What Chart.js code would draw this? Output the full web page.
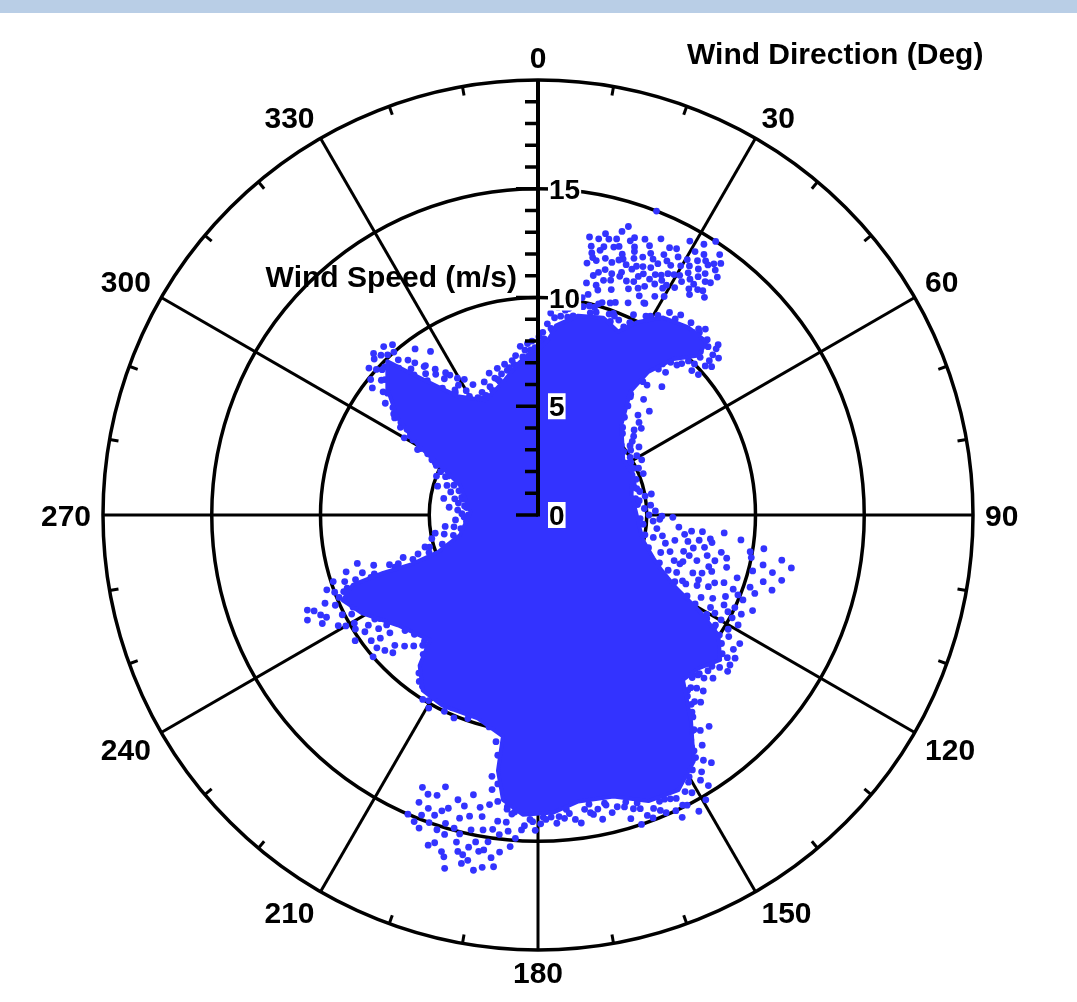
<!DOCTYPE html>
<html>
<head>
<meta charset="utf-8">
<title>Wind Speed vs Direction</title>
<script src="https://cdn.jsdelivr.net/npm/chart.js@4.4.1/dist/chart.umd.min.js"></script>
<style>
  html, body { margin: 0; padding: 0; background: #ffffff; overflow: hidden; }
  #wrap { position: absolute; left: 0; top: 0; width: 1077px; height: 1002px; }
  #band { position: absolute; left: 0; top: 0; width: 1077px; height: 13px; background: #b9cee6; }
</style>
</head>
<body>
<div id="wrap"><canvas id="windRose" width="1077" height="1002"></canvas></div>
<div id="band"></div>
<script>
// ---- Axis definitions -------------------------------------------------------
const directionTicks = [0, 30, 60, 90, 120, 150, 180, 210, 240, 270, 300, 330];
const directionMinorTicks = [10, 20, 40, 50, 70, 80, 100, 110, 130, 140, 160, 170,
                             190, 200, 220, 230, 250, 260, 280, 290, 310, 320, 340, 350];
const speedTicks = [0, 5, 10, 15];
const speedRings = [5, 10, 15, 20];
const speedMax = 20;
const directionTitle = 'Wind Direction (Deg)';
const speedTitle = 'Wind Speed (m/s)';

// ---- Observations -----------------------------------------------------------
// Outline of the densely populated core of the record (direction deg, speed m/s)
const coreDir = [0, 3, 6, 11.4, 18.3, 23.6, 27.4, 32.4, 38.7, 44.2, 45.2,
  41, 37.6, 36.8, 42.7, 57, 66, 77.9, 88, 98.4, 104, 110.5, 114, 117.9, 120.9,
  123.7, 128.5, 133.7, 138.7, 143.4, 147.7, 153, 158.9, 165, 172,
  177.1, 182.9, 187, 188.9, 189, 196.5, 206.6, 213.3, 218.2, 220.8,
  231.8, 240.7, 246.4, 249.3, 249.5, 248.7, 249.7, 255.6, 272.5, 291,
  295.8, 300.3, 304.7, 309.8, 315.6, 317.7, 322, 325.9, 335.3, 346.3,
  352.4, 357.5];
const coreSpeed = [7.6, 8.0, 8.8, 9.35, 9.55, 9.2, 10.0, 10.75, 11.05, 11.1, 10.4,
  9.5, 8.3, 7.1, 5.65, 4.67, 4.75, 4.4, 4.5, 4.75, 5.0, 5.66, 6.2, 7.2, 8.7,
  9.97, 10.7, 10.2, 10.1, 11.8, 13.4, 14.2, 14.1, 13.4, 13.3,
  13.7, 13.8, 13.2, 11.9, 10.3, 9.75, 9.8, 9.65, 8.8, 7.6,
  8.2, 9.25, 9.8, 9.1, 7.6, 6.3, 4.9, 3.7, 3.1, 3.85,
  4.76, 6.4, 7.85, 9.0, 9.9, 8.9, 7.5, 6.6, 5.8, 6.4,
  7.0, 7.5];

// Individual samples, [direction deg, speed m/s]
const coreEdgeObs = [
  [1.5, 7.9], [4.5, 8.5], [8.5, 9.2], [14.5, 9.6], [16.0, 9.7], [20.5, 9.5], [25.5, 9.8], [29.5, 10.5], [35.0, 11.0], [41.5, 11.2],
  [39.5, 9.0], [38.2, 7.8], [37.5, 7.0], [39.5, 6.5], [41.5, 6.0], [44.0, 5.6], [46.0, 5.4], [50.0, 5.0], [53.5, 4.9],
  [60.0, 4.8], [64.0, 4.9], [71.0, 4.55], [74.0, 4.6], [80.5, 4.55], [84.0, 4.6], [92.0, 4.7], [95.0, 4.85], [100.5, 5.0], [106.5, 5.3],
  [111.5, 6.0], [113.0, 6.5], [116.0, 7.0], [118.5, 7.8], [119.5, 8.3], [121.5, 9.1], [122.5, 9.6], [125.0, 10.3], [127.0, 10.9],
  [131.0, 10.6], [134.5, 10.4], [136.5, 10.3], [139.5, 10.6], [141.0, 11.2], [142.5, 11.7], [144.5, 12.2], [146.5, 13.0],
  [150.0, 13.9], [155.0, 14.4], [157.0, 14.3], [161.0, 14.0], [163.0, 13.8], [167.0, 13.6], [170.0, 13.5], [174.5, 13.6], [176.0, 13.9], [179.0, 13.9],
  [181.0, 14.1], [184.5, 13.7], [186.0, 13.6],
  [188.5, 12.5], [189.5, 11.2], [190.5, 10.6], [190.0, 12.2], [189.5, 12.8],
  [193.0, 10.0], [199.0, 9.9], [202.5, 10.1], [204.0, 9.7], [210.5, 9.9], [215.5, 9.4], [217.0, 9.1], [219.5, 8.3], [220.0, 7.9], [222.0, 7.8],
  [226.0, 7.9], [229.0, 8.1], [234.0, 8.6], [237.5, 8.9], [243.5, 9.5], [247.5, 9.9], [249.0, 9.4], [250.5, 8.9], [250.2, 8.0], [250.0, 7.0],
  [250.5, 6.1], [251.0, 5.3], [253.0, 4.6], [256.5, 4.0], [260.0, 3.6], [265.0, 3.3], [270.0, 3.2], [276.0, 3.3], [282.0, 3.5], [287.0, 3.8],
  [293.5, 4.5], [297.0, 5.3], [299.5, 6.2], [302.0, 6.9], [304.0, 7.6], [306.5, 8.3], [309.0, 8.9], [311.5, 9.4], [314.0, 9.8], [316.5, 9.3],
  [318.5, 8.6], [320.5, 8.0], [323.0, 7.3], [326.0, 6.8], [330.0, 6.3], [333.0, 6.0], [337.0, 5.9], [340.0, 6.1], [344.0, 6.4], [348.0, 6.8],
  [351.0, 7.0], [354.5, 7.3], [357.5, 7.6]
];
const northObs = [
  [358.0, 8.0], [355.5, 7.6], [2.0, 8.1], [4.0, 8.6], [6.5, 9.2], [8.5, 9.6], [3.0, 7.8], [352.0, 7.4], [349.0, 6.9], [345.5, 6.7],
  [9.0, 10.2], [7.0, 9.9], [10.0, 9.3], [5.5, 9.6], [1.0, 7.9],
  [356.5, 7.9], [359.0, 7.7], [1.5, 8.4], [2.8, 8.8], [4.8, 9.1], [5.8, 8.7], [7.6, 9.5], [8.0, 10.0], [9.6, 9.8], [3.6, 9.3],
  [354.0, 7.8], [350.5, 7.2], [347.5, 7.1], [343.5, 6.5], [0.3, 8.2], [6.0, 10.1], [10.5, 9.9], [11.5, 10.2], [12.2, 9.8], [13.8, 9.9],
  [16.8, 10.2], [18.8, 10.3], [20.5, 9.9], [22.5, 9.7], [25.5, 10.2], [28.5, 10.4], [31.0, 10.7], [33.0, 11.1], [35.5, 11.3], [26.8, 10.9]
];
const northEastObs = [
  [10.5, 13.0], [11.2, 12.6], [12.0, 12.1], [13.5, 13.3], [14.0, 11.5], [14.9, 10.7], [15.8, 12.8], [16.5, 13.6], [17.4, 13.9], [18.4, 12.4],
  [19.0, 11.8], [19.8, 13.1], [20.5, 12.6], [21.3, 15.0], [21.8, 11.2], [22.5, 13.4], [23.6, 12.1], [24.2, 12.9], [25.0, 11.6], [25.8, 13.3],
  [26.5, 10.9], [27.2, 12.4], [28.0, 13.0], [28.8, 11.9], [29.5, 12.7], [30.3, 13.6], [31.0, 12.2], [31.8, 13.1], [32.5, 14.2], [33.1, 13.5],
  [33.7, 12.5], [34.2, 13.9], [35.0, 14.1], [35.6, 13.2], [36.3, 12.8], [37.0, 13.7], [33.0, 15.0], [29.0, 14.4], [12.8, 10.4], [16.0, 10.1],
  [18.0, 10.9], [13.0, 11.3], [17.0, 11.6], [20.0, 10.4], [22.8, 11.9], [26.0, 12.3], [30.0, 11.6], [24.0, 13.9], [27.5, 13.8], [34.5, 12.3],
  [31.5, 14.6], [11.8, 10.9], [15.2, 9.9], [19.5, 9.8], [23.0, 10.6],
  [11.0, 11.8], [11.6, 12.3], [12.4, 13.0], [12.9, 12.0], [13.8, 12.7], [14.4, 13.1], [14.7, 12.2], [15.3, 11.7], [15.9, 13.2], [16.3, 12.1],
  [16.8, 12.9], [17.2, 11.3], [17.9, 12.6], [18.6, 13.3], [18.9, 11.6], [19.4, 12.2], [20.1, 12.9], [20.7, 11.5], [21.2, 13.6], [21.6, 12.3],
  [22.1, 12.8], [22.9, 12.4], [23.3, 13.1], [23.8, 11.4], [24.5, 12.5], [25.3, 12.0], [25.5, 12.8], [26.2, 13.7], [26.8, 11.9], [27.8, 12.2],
  [28.3, 12.6], [28.5, 13.5], [29.2, 12.1], [29.8, 13.2], [30.6, 12.8], [31.3, 13.4], [31.6, 12.6], [32.1, 13.8], [32.8, 12.9], [33.4, 14.0],
  [33.9, 13.2], [34.0, 12.8], [34.7, 13.5], [35.3, 12.7], [35.9, 13.9], [36.6, 13.3], [37.4, 12.6], [36.0, 14.3], [34.9, 14.6], [30.8, 14.1],
  [13.2, 12.5], [14.2, 10.9], [15.6, 11.2], [17.6, 12.3], [19.2, 13.5], [20.9, 12.1], [22.3, 11.6], [24.8, 11.1], [26.9, 13.1], [28.1, 11.4],
  [38.5, 11.3], [40.2, 11.0], [42.0, 11.5], [44.0, 11.2], [46.6, 11.4], [47.5, 10.9], [48.3, 10.3], [46.0, 10.0], [43.5, 9.6], [41.0, 9.3],
  [39.5, 8.7], [44.8, 10.6], [49.0, 11.0], [37.5, 10.5], [42.5, 10.2],
  [39.0, 10.9], [40.8, 11.3], [41.5, 10.7], [43.0, 11.0], [45.3, 11.0], [45.8, 10.4], [47.0, 11.2], [48.0, 10.6], [49.5, 10.5], [44.3, 9.9],
  [42.8, 9.4], [40.5, 9.8], [39.8, 10.3], [38.2, 9.9], [41.8, 8.8], [46.8, 9.7], [48.8, 9.8], [43.8, 10.5],
  [42.4, 7.2], [45.0, 6.5], [40.0, 7.8], [47.0, 7.0], [38.0, 6.9], [44.0, 8.2], [50.0, 6.2], [52.0, 5.5], [48.5, 5.9], [55.0, 5.2],
  [21.0, 9.8], [24.5, 9.5], [27.0, 9.6], [30.0, 10.2]
];
const eastObs = [
  [94.9, 6.5], [96.0, 7.1], [98.9, 7.5], [97.5, 6.8], [100.5, 6.4], [102.0, 7.3], [104.0, 6.9], [99.0, 8.1], [101.5, 8.6], [103.5, 8.0],
  [106.0, 7.6], [108.0, 8.4], [105.5, 9.0], [107.5, 9.6], [110.0, 9.1], [100.5, 11.4], [105.0, 11.6], [102.5, 10.6], [103.8, 11.1], [106.5, 10.8],
  [108.8, 10.3], [112.5, 10.2], [114.0, 10.8], [116.0, 10.4], [118.8, 10.5], [117.0, 9.8], [113.5, 9.4], [111.0, 8.7], [115.5, 8.9], [119.0, 9.3],
  [121.0, 10.2], [110.5, 7.6], [112.0, 7.96], [109.0, 6.9], [114.5, 7.3], [97.0, 9.4], [99.8, 9.9], [95.5, 8.6], [92.0, 5.6], [91.0, 6.2],
  [124.5, 10.9], [126.0, 11.2], [122.5, 11.0],
  [95.8, 7.6], [97.9, 8.0], [100.0, 7.0], [101.0, 7.8], [102.9, 8.9], [104.5, 8.4], [105.0, 7.2], [106.8, 8.2], [107.8, 7.0], [109.5, 8.0],
  [110.8, 9.6], [112.8, 8.5], [113.9, 8.0], [115.8, 9.5], [116.8, 8.4], [118.2, 9.0], [119.8, 9.7], [120.5, 9.0], [121.8, 9.6], [122.5, 10.4],
  [123.5, 10.0], [117.9, 10.1], [115.2, 10.0], [111.8, 9.9], [109.9, 10.6], [104.6, 10.2], [101.3, 10.0], [98.5, 10.5], [101.8, 11.9], [107.8, 11.3],
  [60.5, 4.9], [65.0, 5.1], [70.0, 4.8], [75.0, 4.7], [80.0, 5.0], [85.0, 5.2], [88.0, 5.4], [56.0, 5.6], [62.0, 5.4],
  [47.5, 6.3], [50.5, 5.7], [53.0, 5.3], [58.0, 5.0], [63.5, 4.8], [67.0, 4.7], [72.0, 4.6], [77.0, 4.8], [82.0, 4.7], [86.5, 4.9],
  [90.0, 5.1], [93.0, 5.3], [96.5, 5.5], [99.5, 5.8], [102.5, 6.0], [105.5, 6.3], [108.5, 6.6], [112.5, 6.9], [115.0, 7.5], [59.0, 5.3],
  [68.5, 5.2], [79.5, 5.3], [90.5, 5.7], [101.0, 5.4], [107.0, 5.9]
];
const southEastObs = [
  [145.0, 13.9], [148.5, 14.3], [151.0, 14.6], [153.5, 14.9], [156.7, 14.9], [158.5, 14.5], [160.0, 14.7], [162.0, 14.2], [150.0, 13.6], [146.5, 12.8],
  [144.0, 12.2], [142.0, 11.5], [149.5, 15.2], [154.5, 15.4], [140.5, 10.8], [147.0, 13.3], [155.5, 13.9], [163.5, 14.0], [166.0, 14.1], [168.5, 13.8],
  [141.0, 12.5], [139.0, 11.4], [130.0, 10.9], [132.5, 10.6], [135.0, 10.4], [137.5, 10.8], [128.0, 11.2],
  [170.0, 13.9], [174.0, 13.8], [176.5, 14.2], [178.5, 14.0], [172.0, 14.3],
  [127.0, 10.6], [129.5, 11.3], [131.0, 10.4], [133.0, 11.0], [134.5, 10.7], [136.0, 10.2], [136.8, 11.1], [138.5, 10.6], [140.0, 11.2], [141.8, 11.0],
  [143.0, 12.4], [144.5, 13.0], [145.8, 12.5], [146.0, 13.6], [147.5, 14.0], [148.8, 13.7], [150.6, 14.1], [152.0, 14.4], [152.8, 15.0], [154.0, 14.5],
  [155.0, 15.0], [156.0, 14.3], [157.5, 14.7], [159.2, 14.9], [160.8, 14.3], [161.5, 15.0], [163.0, 14.6], [164.8, 13.9], [166.8, 13.7], [168.0, 14.3],
  [169.5, 14.0], [171.0, 13.7], [173.0, 14.1], [175.0, 14.0], [177.5, 13.9], [179.5, 14.2], [181.5, 14.0], [183.0, 14.5], [151.5, 15.5], [147.8, 14.7]
];
const southObs = [
  [196.7, 14.8], [192.5, 16.0], [188.7, 15.2], [185.4, 14.6], [195.7, 13.6], [198.0, 14.3], [199.5, 15.0], [194.0, 15.5], [190.5, 14.1], [193.0, 13.2],
  [197.5, 15.8], [191.5, 16.2], [189.5, 13.5], [186.5, 15.6], [184.0, 14.9], [200.5, 14.4], [201.5, 13.8], [194.5, 14.4], [192.0, 14.8], [196.0, 16.1],
  [187.5, 14.2], [198.8, 13.2], [190.0, 15.7], [182.5, 14.3], [202.0, 15.2], [193.8, 15.1], [189.0, 16.4], [180.5, 14.5], [192.4, 16.4],
  [184.8, 15.3], [185.9, 14.2], [186.9, 14.8], [187.8, 15.9], [188.2, 14.6], [189.2, 15.6], [189.9, 14.7], [190.8, 15.3], [191.2, 13.7], [191.8, 15.6],
  [192.8, 14.2], [193.4, 15.9], [194.2, 13.8], [195.0, 14.9], [195.4, 16.3], [196.3, 15.3], [197.0, 14.1], [197.8, 15.2], [198.4, 16.0], [199.0, 14.6],
  [199.8, 13.7], [200.8, 15.4], [201.2, 14.8], [202.5, 14.3], [203.0, 13.6], [203.5, 15.0], [187.2, 16.3], [190.3, 16.6], [194.8, 16.8], [185.0, 13.8],
  [186.0, 13.5], [188.0, 13.3],
  [208.0, 9.6], [205.5, 10.0], [214.0, 9.5], [212.0, 10.0], [209.5, 10.2]
];
const southWestObs = [
  [247.6, 11.47], [245.5, 11.65], [245.3, 11.0], [243.3, 11.1], [247.5, 10.6], [250.5, 10.3], [252.0, 9.9], [248.5, 9.6], [243.0, 10.1], [241.0, 10.5],
  [239.5, 9.8], [237.0, 9.3], [229.3, 10.0], [233.0, 9.6], [235.5, 10.2], [227.7, 8.9], [226.5, 9.2], [231.5, 8.7], [253.5, 9.2], [255.0, 8.6],
  [245.5, 8.9], [238.5, 8.4],
  [246.8, 11.2], [244.2, 10.8], [246.0, 10.2], [249.2, 10.0], [251.0, 9.4], [244.8, 9.5], [242.0, 9.7], [240.0, 10.2], [238.0, 9.9], [236.0, 9.6],
  [234.5, 9.0], [232.0, 9.2], [230.5, 9.6], [228.5, 9.4], [225.5, 8.6], [223.5, 8.3], [221.5, 8.0], [236.8, 8.7], [241.8, 9.0], [248.0, 8.7],
  [251.8, 8.5], [253.0, 7.9], [251.5, 7.2], [252.5, 6.5], [252.0, 5.8], [253.5, 5.2], [250.8, 6.8], [249.5, 8.2]
];
const westObs = [
  [294.0, 4.9], [284.8, 4.15], [278.5, 3.7], [266.6, 3.8], [260.0, 4.8], [254.2, 5.4], [288.0, 4.4], [281.0, 3.9], [271.0, 3.5], [263.0, 4.3],
  [297.5, 5.5], [291.0, 5.0], [275.0, 4.1], [257.5, 5.0],
  [258.5, 4.4], [262.0, 3.9], [268.5, 3.4], [273.5, 3.7], [277.0, 3.4], [280.0, 4.4], [283.0, 3.6], [286.0, 4.8], [289.5, 4.1], [292.5, 4.6],
  [296.0, 5.2], [299.0, 5.8], [298.5, 6.3], [301.0, 6.7]
];
const northWestObs = [
  [313.6, 10.4], [316.8, 10.1], [326.7, 9.0], [310.7, 9.5], [306.2, 8.7], [304.1, 7.96], [300.0, 7.1], [327.0, 7.8], [326.4, 6.9], [332.9, 6.06],
  [318.5, 10.0], [312.0, 10.0], [320.0, 9.3], [322.5, 8.6], [308.5, 9.1], [302.5, 7.5], [329.5, 7.3], [324.0, 8.0], [335.5, 6.2], [338.0, 6.6],
  [341.0, 6.9], [315.0, 9.7], [319.5, 10.3], [323.5, 9.5],
  [311.0, 10.3], [313.0, 9.8], [314.5, 10.6], [316.0, 9.4], [317.5, 10.5], [318.0, 9.6], [319.0, 8.9], [321.0, 9.0], [321.5, 8.3], [323.0, 8.6],
  [324.8, 8.2], [325.5, 7.6], [327.8, 7.6], [328.5, 7.0], [330.0, 6.6], [331.5, 7.1], [333.5, 6.7], [334.8, 5.9], [336.5, 6.0], [339.5, 6.3],
  [342.5, 6.6], [344.5, 7.0], [309.5, 8.4], [307.5, 9.6], [305.0, 8.1], [303.2, 7.2], [301.8, 6.9], [309.0, 9.9], [312.8, 9.3], [315.5, 10.3]
];

// ---- Helpers ----------------------------------------------------------------
const RAD = Math.PI / 180;
// Meteorological bearing (0 = north, clockwise) to plot components
function toXY(dir, speed) {
  return { x: speed * Math.sin(dir * RAD), y: speed * Math.cos(dir * RAD) };
}
const POINT_BLUE = 'rgb(51, 51, 255)';
const LABEL_FONT = 'bold 30px "Liberation Sans", Arial, Helvetica, sans-serif';
const TICK_FONT = 'bold 28px "Liberation Sans", Arial, Helvetica, sans-serif';
const TITLE_FONT = 'bold 30px "Liberation Sans", Arial, Helvetica, sans-serif';

const corePoints = coreDir.map((d, i) => toXY(d, coreSpeed[i]));
corePoints.push(toXY(coreDir[0], coreSpeed[0]));
const samplePoints = [...coreEdgeObs, ...northObs, ...northEastObs, ...eastObs, ...southEastObs,
  ...southObs, ...southWestObs, ...westObs, ...northWestObs].map(([d, s]) => toXY(d, s));

// ---- Polar frame drawn from the chart's own x/y scales -----------------------
const polarFrame = {
  id: 'polarFrame',
  beforeDatasetsDraw(chart) {
    const { ctx, scales: { x, y } } = chart;
    const cx = x.getPixelForValue(0), cy = y.getPixelForValue(0);
    const unit = x.getPixelForValue(1) - cx;
    const at = (deg, spd) => {
      const p = toXY(deg, spd);
      return [x.getPixelForValue(p.x), y.getPixelForValue(p.y)];
    };
    ctx.save();
    ctx.strokeStyle = '#000';
    ctx.lineCap = 'butt';

    // speed rings
    ctx.lineWidth = 3.5;
    speedRings.forEach(s => {
      ctx.beginPath();
      ctx.arc(cx, cy, s * unit, 0, Math.PI * 2);
      ctx.stroke();
    });

    // direction spokes (north is carried by the speed axis)
    ctx.lineWidth = 3;
    directionTicks.forEach(d => {
      if (d === 0) return;
      const [x1, y1] = at(d, speedRings[0]);
      const [x2, y2] = at(d, speedMax);
      ctx.beginPath(); ctx.moveTo(x1, y1); ctx.lineTo(x2, y2); ctx.stroke();
    });

    // minor direction ticks on the rim
    directionMinorTicks.forEach(d => {
      const [x1, y1] = at(d, speedMax);
      const [x2, y2] = at(d, speedMax - 9 / unit);
      ctx.beginPath(); ctx.moveTo(x1, y1); ctx.lineTo(x2, y2); ctx.stroke();
    });

    // direction labels: box corner offset from the rim
    ctx.font = LABEL_FONT;
    ctx.fillStyle = '#000';
    ctx.textAlign = 'center';
    ctx.textBaseline = 'alphabetic';
    const capH = 21;
    const gap = 12;
    directionTicks.forEach(d => {
      const t = String(d);
      const w = ctx.measureText(t).width;
      const sn = Math.round(Math.sin(d * RAD) * 1000) / 1000;
      const cs = Math.round(Math.cos(d * RAD) * 1000) / 1000;
      const rr = speedMax * unit + gap;
      const px = cx + rr * sn + Math.sign(sn) * w / 2;
      const py = cy - rr * cs - Math.sign(cs) * capH / 2;
      ctx.fillText(t, px, py + capH / 2);
    });
    ctx.restore();
  },
  afterDatasetsDraw(chart) {
    const { ctx, scales: { x, y } } = chart;
    const cx = x.getPixelForValue(0);
    const y0 = y.getPixelForValue(0);
    const yTop = y.getPixelForValue(speedMax);
    ctx.save();
    ctx.strokeStyle = '#000';
    ctx.lineCap = 'butt';

    // speed axis along north
    ctx.lineWidth = 4;
    ctx.beginPath(); ctx.moveTo(cx, y0 + 1.5); ctx.lineTo(cx, yTop); ctx.stroke();

    // speed ticks: every 1 m/s, long ones at labelled values
    ctx.lineWidth = 3.5;
    for (let s = 0; s < speedMax; s++) {
      const py = y.getPixelForValue(s);
      const len = speedTicks.includes(s) ? 22 : 13;
      ctx.beginPath(); ctx.moveTo(cx - len, py); ctx.lineTo(cx, py); ctx.stroke();
    }

    // speed labels on white boxes
    ctx.font = TICK_FONT;
    ctx.textAlign = 'left';
    ctx.textBaseline = 'alphabetic';
    speedTicks.forEach(s => {
      const py = y.getPixelForValue(s);
      const t = String(s);
      const w = ctx.measureText(t).width;
      const lx = cx + 11;
      ctx.fillStyle = '#fff';
      ctx.fillRect(lx - 1, py - 13, w + 2, 26);
      ctx.fillStyle = '#000';
      ctx.fillText(t, lx, py + 10);
    });

    // axis titles
    ctx.font = TITLE_FONT;
    ctx.fillStyle = '#000';
    ctx.textAlign = 'left';
    ctx.fillText(directionTitle, 687, 64);
    ctx.textAlign = 'right';
    ctx.fillText(speedTitle, 517, 287);
    ctx.restore();
  }
};

new Chart(document.getElementById('windRose'), {
  type: 'scatter',
  data: {
    datasets: [
      {
        label: 'core',
        data: corePoints,
        showLine: true,
        fill: 'shape',
        backgroundColor: POINT_BLUE,
        borderColor: POINT_BLUE,
        borderWidth: 4,
        borderJoinStyle: 'round',
        pointRadius: 0,
        tension: 0,
        clip: false
      },
      {
        label: 'samples',
        data: samplePoints,
        backgroundColor: POINT_BLUE,
        borderWidth: 0,
        pointRadius: 3.4,
        pointHoverRadius: 3.4,
        clip: false
      }
    ]
  },
  options: {
    responsive: false,
    animation: false,
    events: [],
    layout: { padding: { left: 103, right: 104, top: 80, bottom: 52 } },
    scales: {
      x: { type: 'linear', min: -speedMax, max: speedMax, display: false },
      y: { type: 'linear', min: -speedMax, max: speedMax, display: false }
    },
    plugins: {
      legend: { display: false },
      tooltip: { enabled: false }
    }
  },
  plugins: [polarFrame]
});
</script>
</body>
</html>
